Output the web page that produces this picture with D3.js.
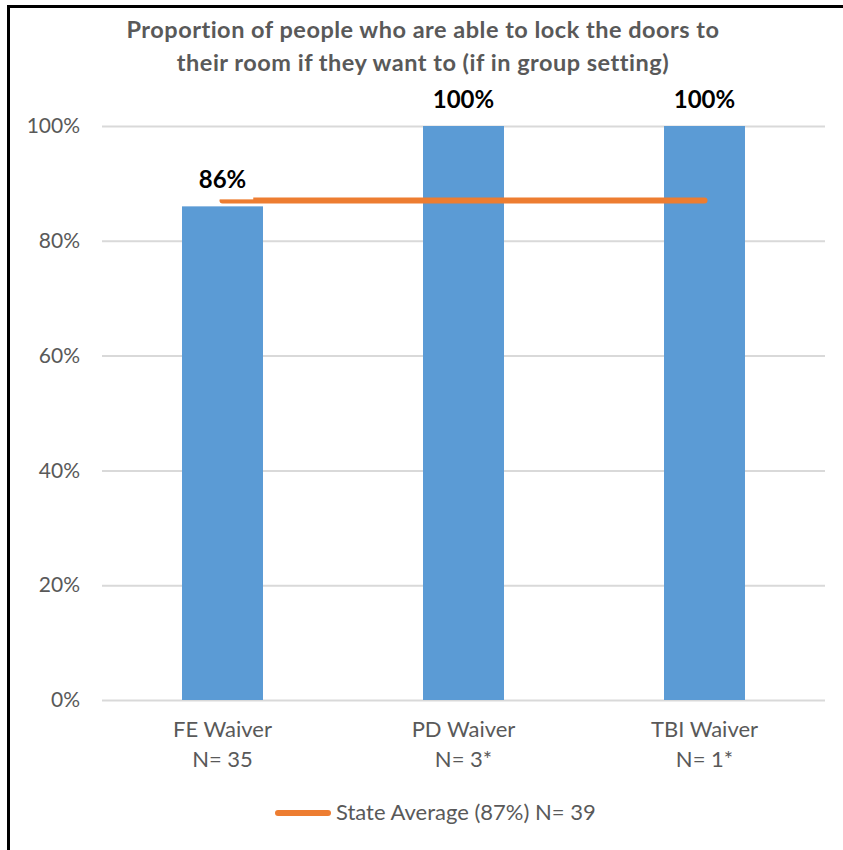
<!DOCTYPE html>
<html>
<head>
<meta charset="utf-8">
<script src="https://cdn.jsdelivr.net/npm/d3@7"></script>
<style>
  html, body { margin: 0; padding: 0; background: #fff; }
  svg { display: block; }
  text { font-family: Lato, "Open Sans", sans-serif; }
</style>
</head>
<body>
<svg id="chart" width="843" height="850"></svg>
<script>
const titleLines = ["Proportion of people who are able to lock the doors to", "their room if they want to (if in group setting)"];
const categories = ["FE Waiver", "PD Waiver", "TBI Waiver"];
const sampleSizes = ["N= 35", "N= 3*", "N= 1*"];
const values = [0.86, 1.00, 1.00];
const valueLabels = ["86%", "100%", "100%"];
const stateAverage = 0.87;
const legendLabel = "State Average (87%) N= 39";
const yTicks = [0, 0.2, 0.4, 0.6, 0.8, 1.0];

const svg = d3.select("#chart");
const gray = "#595959";

// frame
svg.append("path")
  .attr("d", "M8.5,850 L8.5,6.5 L843,6.5")
  .attr("fill", "none").attr("stroke", "#000").attr("stroke-width", 3);

const x = d3.scaleBand().domain(categories).range([102, 825])
  .paddingInner(0.664).paddingOuter(0.332);
const y = d3.scaleLinear().domain([0, 1]).range([700, 126]);

// title
svg.append("g").selectAll("text").data(titleLines).join("text")
  .attr("x", 423).attr("y", (d, i) => 38 + i * 33)
  .attr("text-anchor", "middle")
  .attr("font-size", 23.5).attr("letter-spacing", 0.5)
  .attr("font-weight", "bold").attr("fill", gray)
  .text(d => d);

// y axis with gridlines
const yAxis = d3.axisLeft(y).tickValues(yTicks)
  .tickFormat(d3.format(".0%")).tickSize(-(825 - 102)).tickPadding(22);
const gy = svg.append("g").attr("transform", "translate(102,0)").call(yAxis);
gy.select(".domain").remove();
gy.selectAll(".tick line").attr("stroke", "#d9d9d9").attr("stroke-width", 2);
gy.selectAll(".tick text").attr("font-size", 21).attr("fill", gray)
  .attr("font-family", "Lato, sans-serif");

// bars
svg.append("g").selectAll("rect").data(categories).join("rect")
  .attr("x", d => x(d)).attr("width", x.bandwidth())
  .attr("y", (d, i) => y(values[i]))
  .attr("height", (d, i) => y(0) - y(values[i]))
  .attr("fill", "#5b9bd5");

// state average line
svg.append("line")
  .attr("x1", x(categories[0]) + x.bandwidth() / 2)
  .attr("x2", x(categories[categories.length - 1]) + x.bandwidth() / 2)
  .attr("y1", y(stateAverage)).attr("y2", y(stateAverage))
  .attr("stroke", "#ed7d31").attr("stroke-width", 6).attr("stroke-linecap", "round");

// data labels (with white background box like the original)
const lg = svg.append("g");
categories.forEach((c, i) => {
  const cx = x(c) + x.bandwidth() / 2;
  const by = y(values[i]) - 18;
  const g = lg.append("g");
  const rect = g.append("rect").attr("fill", "#fff");
  const t = g.append("text")
    .attr("x", cx).attr("y", by)
    .attr("text-anchor", "middle")
    .attr("font-size", 24).attr("font-weight", "bold").attr("fill", "#000")
    .text(valueLabels[i]);
  const bb = t.node().getBBox();
  rect.attr("x", bb.x - 7).attr("y", bb.y - 4)
    .attr("width", bb.width + 14).attr("height", by + 11 - (bb.y - 4));
});

// x labels
const xl = svg.append("g");
categories.forEach((c, i) => {
  const cx = x(c) + x.bandwidth() / 2;
  xl.append("text").attr("x", cx).attr("y", 737).attr("text-anchor", "middle")
    .attr("font-size", 22).attr("fill", gray).text(c);
  xl.append("text").attr("x", cx).attr("y", 767).attr("text-anchor", "middle")
    .attr("font-size", 22).attr("fill", gray).text(sampleSizes[i]);
});

// legend
svg.append("line").attr("x1", 278).attr("x2", 328).attr("y1", 813).attr("y2", 813)
  .attr("stroke", "#ed7d31").attr("stroke-width", 6).attr("stroke-linecap", "round");
svg.append("text").attr("x", 336).attr("y", 820)
  .attr("font-size", 22).attr("fill", gray).text(legendLabel);
</script>
</body>
</html>
